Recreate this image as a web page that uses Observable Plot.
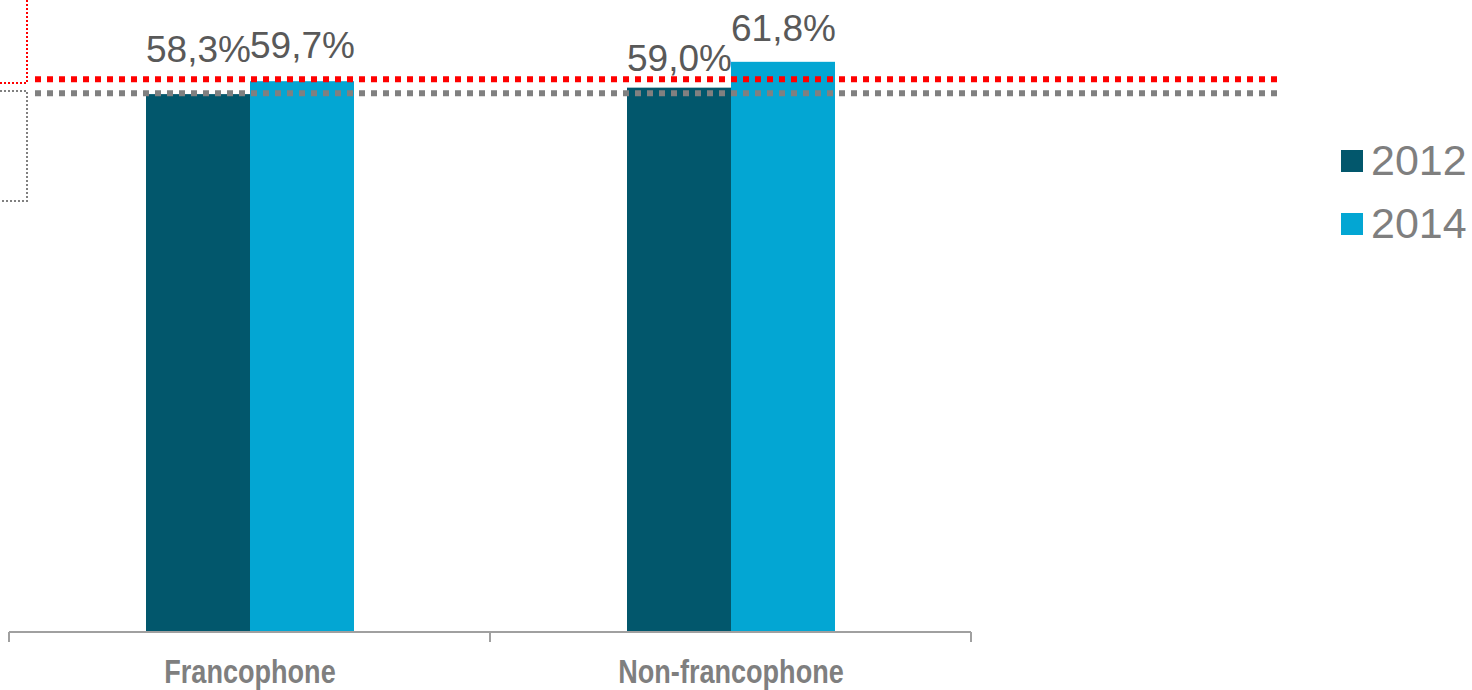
<!DOCTYPE html>
<html>
<head>
<meta charset="utf-8">
<script src="https://cdn.jsdelivr.net/npm/d3@7"></script>
<script src="https://cdn.jsdelivr.net/npm/@observablehq/plot@0.6"></script>
<style>
  html, body { margin: 0; padding: 0; background: #ffffff; }
  #chart { position: relative; width: 1472px; height: 690px; overflow: hidden; }
  #chart svg { display: block; }
</style>
</head>
<body>
<div id="chart"></div>
<script>
// Groups, years and rates (%)
const groups = ["Francophone", "Non-francophone"];
const years = ["2012", "2014"];
const rate2012 = [58.3, 59.0];
const rate2014 = [59.7, 61.8];
// Dotted benchmark levels (%)
const benchmark2014 = 59.9;
const benchmark2012 = 58.4;

const colors = { "2012": "#02576c", "2014": "#03a6d3" };

const rows = [];
groups.forEach((g, i) => {
  rows.push({ group: g, year: "2012", value: rate2012[i] });
  rows.push({ group: g, year: "2014", value: rate2014[i] });
});

const fmt = v => v.toFixed(1).replace(".", ",") + "%";

// Label lift above each bar (px), keyed by group/year
const labelDy = {
  "Francophone|2012": -33, "Francophone|2014": -24,
  "Non-francophone|2012": -17, "Non-francophone|2014": -21
};

const labelMarks = rows.map(r => Plot.text([r], {
  fx: "group", x: "year", y: "value",
  text: d => fmt(d.value),
  lineAnchor: "bottom",
  dy: labelDy[r.group + "|" + r.year],
  fontSize: 37,
  fill: "#595959"
}));

const plot = Plot.plot({
  width: 1472,
  height: 690,
  marginLeft: 9,
  marginRight: 501,
  marginTop: 0,
  marginBottom: 58,
  style: { fontFamily: "'Liberation Sans', Arial, sans-serif", background: "transparent", overflow: "visible" },
  fx: { domain: groups, padding: 0, label: null, axis: null },
  x: { domain: years, paddingInner: 0, paddingOuter: 1.3, axis: null },
  y: { domain: [0, 68.5], axis: null },
  marks: [
    Plot.barY(rows, { fx: "group", x: "year", y: "value", fill: d => colors[d.year] }),
    ...labelMarks,
    Plot.axisFx({
      domain: groups,
      anchor: "bottom",
      tickSize: 0,
      tickPadding: 27,
      fontSize: 33,
      fontWeight: "bold",
      fontFamily: "'Liberation Sans Narrow', 'Arial Narrow', 'Liberation Sans', sans-serif",
      color: "#7f7f7f",
      label: null
    })
  ]
});

document.getElementById("chart").appendChild(plot);

const svg = d3.select(plot);
const y = plot.scale("y");
const fx = plot.scale("fx");
const y0 = y.apply(0);
const left = fx.apply(groups[0]);
const step = fx.bandwidth;

// Category labels are set in a condensed bold face
svg.selectAll("text").filter(function () { return groups.includes(this.textContent); })
  .each(function () {
    const w = this.getComputedTextLength();
    d3.select(this).attr("textLength", w * 0.82).attr("lengthAdjust", "spacingAndGlyphs");
  });

// Category axis baseline with boundary ticks
const axisG = svg.append("g").attr("stroke", "#a0a0a0").attr("stroke-width", 2);
axisG.append("line")
  .attr("x1", left).attr("x2", left + step * groups.length)
  .attr("y1", y0).attr("y2", y0);
d3.range(groups.length + 1).forEach(i => {
  axisG.append("line")
    .attr("x1", left + i * step).attr("x2", left + i * step)
    .attr("y1", y0).attr("y2", y0 + 10);
});

// Dotted benchmark lines running past the plot into the legend area
[[benchmark2014, "#ff0000"], [benchmark2012, "#808080"]].forEach(([v, c]) => {
  svg.append("line")
    .attr("x1", 35).attr("x2", 1279)
    .attr("y1", y.apply(v)).attr("y2", y.apply(v))
    .attr("stroke", c).attr("stroke-width", 6)
    .attr("stroke-dasharray", "6 6");
});

// Callout leaders at the left edge
svg.append("path")
  .attr("d", "M27,0V83H0")
  .attr("fill", "none").attr("stroke", "#ff0000")
  .attr("stroke-width", 2).attr("stroke-dasharray", "2 2");
svg.append("path")
  .attr("d", "M0,91H27V201H0")
  .attr("fill", "none").attr("stroke", "#808080")
  .attr("stroke-width", 2).attr("stroke-dasharray", "2 2");

// Legend
const legend = svg.append("g");
years.forEach((yr, i) => {
  const top = 150 + i * 63;
  legend.append("rect")
    .attr("x", 1341).attr("y", top).attr("width", 22).attr("height", 22)
    .attr("fill", colors[yr]);
  legend.append("text")
    .attr("x", 1371).attr("y", top + 25)
    .attr("font-size", 43)
    .attr("text-anchor", "start")
    .attr("fill", "#7f7f7f")
    .attr("font-family", "'Liberation Sans', Arial, sans-serif")
    .text(yr);
});
</script>
</body>
</html>
